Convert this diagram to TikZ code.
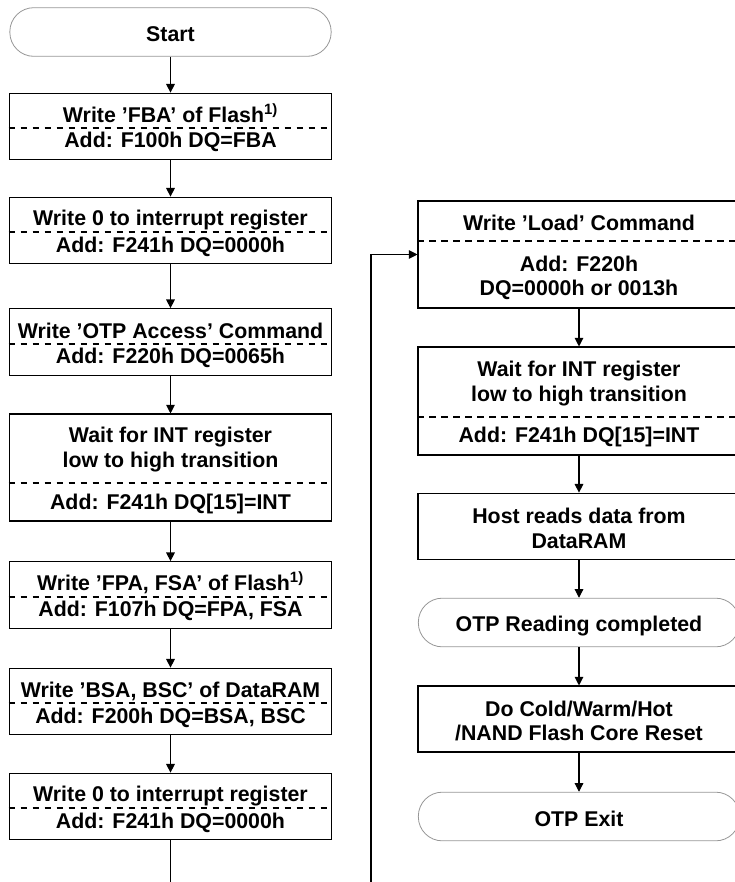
\documentclass[tikz,border=0pt]{standalone}
\usepackage{fontspec}
\setmainfont{Liberation Sans}
\usepackage{tikz}
\usetikzlibrary{arrows.meta}
\definecolor{termgray}{RGB}{150,150,150}
\newcommand{\ls}{\rule[-1.8pt]{0pt}{18pt}}

\tikzset{
  every node/.style={font=\fontsize{16}{18.5}\selectfont\bfseries, align=center, inner sep=0pt},
  process/.style={draw=black, line width=0.8pt, rectangle, minimum width=242pt, minimum height=50pt},
  terminal/.style={draw=termgray, line width=0.6pt, rectangle, rounded corners=18pt, minimum width=241pt, minimum height=36.5pt},
  divider/.style={line width=0.8pt, dash pattern={on 5pt off 4pt}},
  flow/.style={line width=0.8pt, -{Triangle[length=6.5pt,width=6.5pt]}}
}

\begin{document}
\begin{tikzpicture}[x=0.75pt,y=0.75pt,yscale=-1,xscale=1]
    \clip (0,0) rectangle (735,882); %picture is 735 wide and 882 high

    %Flowchart: Terminator
    \node[terminal] (start) at (170.5,32) {\ls Start\ls};
    %Flowchart: Process
    \node[process] (fba) at (170.5,126.5) {\ls Write ’FBA’ of Flash\textsuperscript{1)}\\Add: F100h DQ=FBA\ls};
    %Flowchart: Process
    \node[process] (intA) at (170.5,230.5) {\ls Write 0 to interrupt register\\Add: F241h DQ=0000h\ls};
    %Flowchart: Process
    \node[process] (otp) at (170.5,342) {\ls Write ’OTP Access’ Command\\Add: F220h DQ=0065h\ls};
    %Flowchart: Process
    \node[process, minimum height=80.25pt] (waitA) at (170.5,467.5) {\ls Wait for INT register\\low to high transition\\[11.5pt]Add: F241h DQ[15]=INT\ls};
    %Flowchart: Process
    \node[process] (fpa) at (170.5,595) {\ls Write ’FPA, FSA’ of Flash\textsuperscript{1)}\\Add: F107h DQ=FPA, FSA\ls};
    %Flowchart: Process
    \node[process] (bsa) at (170.5,701.5) {\ls Write ’BSA, BSC’ of DataRAM\\Add: F200h DQ=BSA, BSC\ls};
    %Flowchart: Process
    \node[process] (intB) at (170.5,806.5) {\ls Write 0 to interrupt register\\Add: F241h DQ=0000h\ls};

    %Flowchart: Process
    \node[process, minimum width=241.5pt, minimum height=80.25pt] (load) at (579,254.5) {\ls Write ’Load’ Command\\[12pt]Add: F220h\\DQ=0000h or 0013h\ls};
    %Flowchart: Process
    \node[process, minimum width=241.5pt, minimum height=81pt] (waitB) at (579,401) {\ls Wait for INT register\\low to high transition\\[10.5pt]Add: F241h DQ[15]=INT\ls};
    %Flowchart: Process
    \node[process, minimum width=241.5pt] (host) at (579,526.5) {\ls Host reads data from\\DataRAM\ls};
    %Flowchart: Terminator
    \node[terminal] (done) at (579,622.5) {\ls OTP Reading completed\ls};
    %Flowchart: Process
    \node[process, minimum width=241.5pt, minimum height=49.5pt] (reset) at (579,719) {\ls Do Cold/Warm/Hot\\/NAND Flash Core Reset\ls};
    %Flowchart: Terminator
    \node[terminal] (exit) at (579,816.5) {\ls OTP Exit\ls};

    %Dashed Lines
    \draw[divider] (fba.west |- 0,128) -- (fba.east |- 0,128);
    \draw[divider] (intA.west |- 0,232) -- (intA.east |- 0,232);
    \draw[divider] (otp.west |- 0,344) -- (otp.east |- 0,344);
    \draw[divider] (waitA.west |- 0,483) -- (waitA.east |- 0,483);
    \draw[divider] (fpa.west |- 0,597) -- (fpa.east |- 0,597);
    \draw[divider] (bsa.west |- 0,703) -- (bsa.east |- 0,703);
    \draw[divider] (intB.west |- 0,808) -- (intB.east |- 0,808);
    \draw[divider] (load.west |- 0,241) -- (load.east |- 0,241);
    \draw[divider] (waitB.west |- 0,417) -- (waitB.east |- 0,417);

    %Straight Lines
    \draw[flow] (start) -- (fba);
    \draw[flow] (fba) -- (intA);
    \draw[flow] (intA) -- (otp);
    \draw[flow] (otp) -- (waitA);
    \draw[flow] (waitA) -- (fpa);
    \draw[flow] (fpa) -- (bsa);
    \draw[flow] (bsa) -- (intB);
    \coordinate (leftend) at (170.5,884);
    \draw[line width=0.8pt] (intB) -- (leftend);

    \draw[flow] (load) -- (waitB);
    \draw[flow] (waitB) -- (host);
    \draw[flow] (host) -- (done);
    \draw[flow] (done) -- (reset);
    \draw[flow] (reset) -- (exit);

    %Loop back
    \coordinate (loopend) at (371,884);
    \draw[flow] (loopend) |- (load.west);

\end{tikzpicture}
\end{document}
